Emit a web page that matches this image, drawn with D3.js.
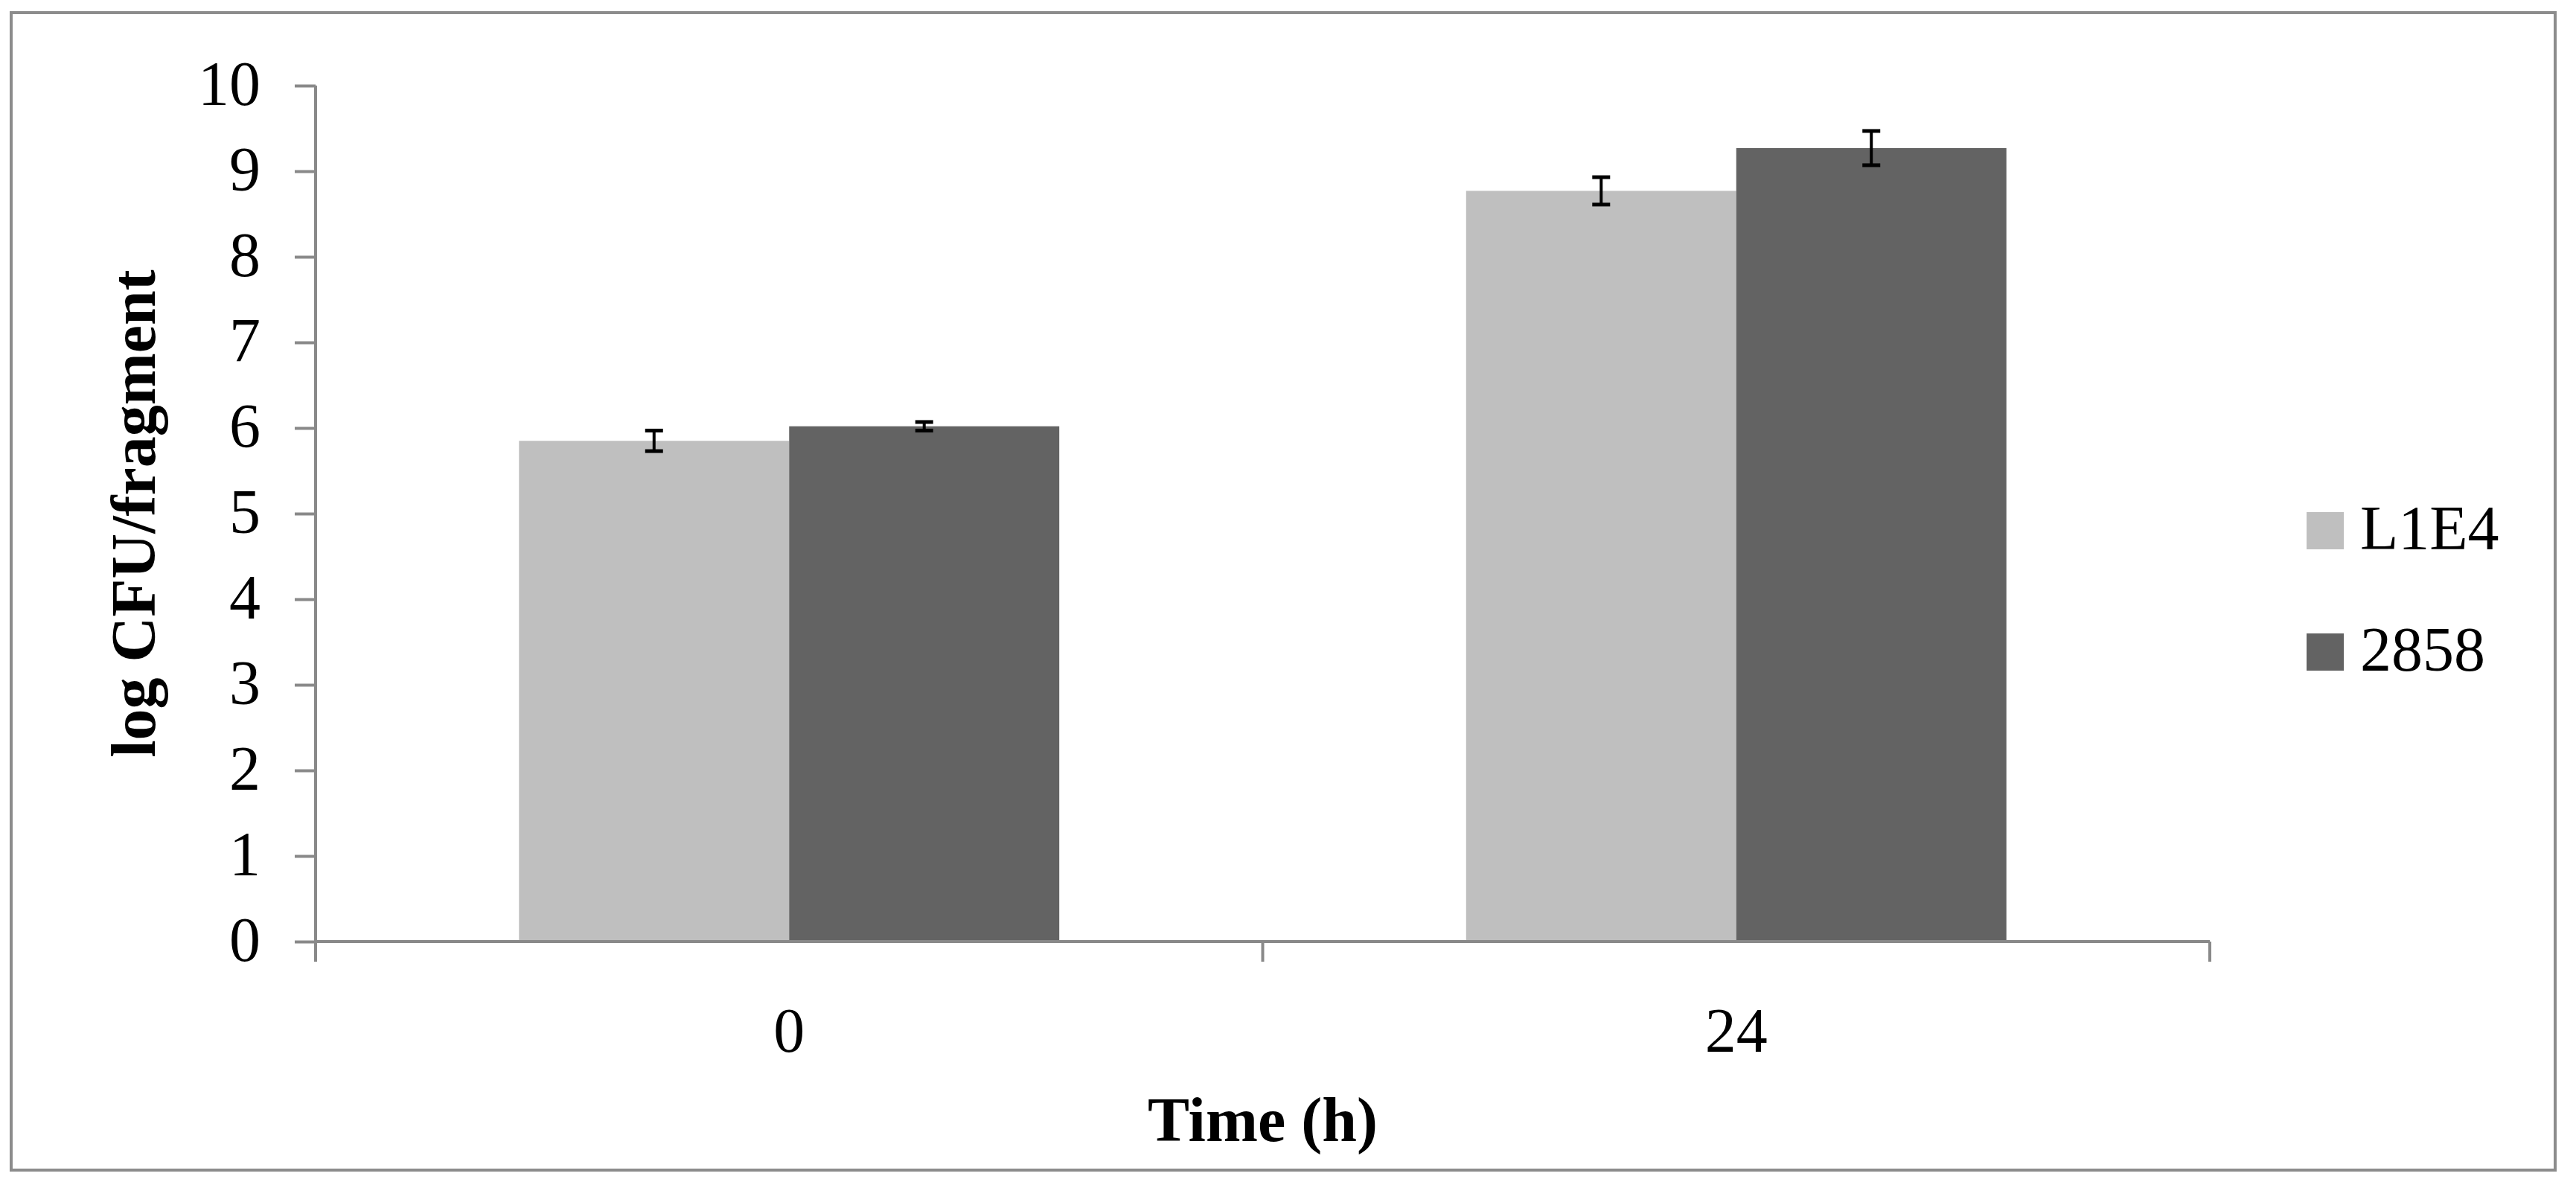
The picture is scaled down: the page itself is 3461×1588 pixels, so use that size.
<!DOCTYPE html>
<meta charset="utf-8">
<style>
  body { margin: 0; background: #fff; }
  text { font-family: "Liberation Serif", "Times New Roman", serif; fill: #000; }
</style>

<!-- Load d3.js -->
<script src="https://d3js.org/d3.v7.min.js"></script>

<div id="my_dataviz"></div>
<script>

// data
var times = ["0", "24"]
var seriesNames = ["L1E4", "2858"]
var L1E4 = [5.85, 8.77]
var L1E4err = [0.12, 0.16]
var s2858 = [6.02, 9.27]
var s2858err = [0.05, 0.2]
var yTicks = [0, 1, 2, 3, 4, 5, 6, 7, 8, 9, 10]
var colors = ["#bfbfbf", "#636363"]

var W = 3461, H = 1588
// plot area edges (note: "top" is taken by window.top)
var pLeft = 424, pRight = 2969, pTop = 115, pBottom = 1265

var svg = d3.select("#my_dataviz")
  .append("svg")
    .attr("width", W)
    .attr("height", H)

// outer frame
svg.append("rect")
  .attr("x", 15).attr("y", 17)
  .attr("width", 3418).attr("height", 1555)
  .attr("fill", "#fff")
  .attr("stroke", "#8c8c8c")
  .attr("stroke-width", 4)

// build rows for the bars
var rows = times.map(function(t, i) {
  return {
    time: t,
    vals: [
      {name: seriesNames[0], v: L1E4[i], e: L1E4err[i]},
      {name: seriesNames[1], v: s2858[i], e: s2858err[i]}
    ]
  }
})

var x0 = d3.scaleBand().domain(times).range([pLeft, pRight]).padding(0)
var x1 = d3.scaleBand().domain(seriesNames).range([0, x0.bandwidth()])
  .paddingInner(0).paddingOuter(0.753)
var y = d3.scaleLinear().domain([0, 10]).range([pBottom, pTop])
var color = d3.scaleOrdinal().domain(seriesNames).range(colors)

// bars
var groups = svg.append("g")
  .selectAll("g")
  .data(rows)
  .enter()
  .append("g")
    .attr("transform", function(d) { return "translate(" + x0(d.time) + ",0)" })

groups.selectAll("rect")
  .data(function(d) { return d.vals })
  .enter()
  .append("rect")
    .attr("x", function(d) { return x1(d.name) })
    .attr("y", function(d) { return y(d.v) })
    .attr("width", x1.bandwidth())
    .attr("height", function(d) { return y(0) - y(d.v) })
    .attr("fill", function(d) { return color(d.name) })

// error bars
var err = groups.selectAll(".err")
  .data(function(d) { return d.vals })
  .enter()
  .append("g")
    .attr("class", "err")
    .attr("transform", function(d) { return "translate(" + (x1(d.name) + x1.bandwidth() / 2) + ",0)" })
err.append("line")
  .attr("y1", function(d) { return y(d.v + d.e) })
  .attr("y2", function(d) { return y(d.v - d.e) })
  .attr("stroke", "#000").attr("stroke-width", 4)
err.selectAll(".cap")
  .data(function(d) { return [d.v + d.e, d.v - d.e] })
  .enter()
  .append("line")
    .attr("x1", -12).attr("x2", 12)
    .attr("y1", function(d) { return y(d) })
    .attr("y2", function(d) { return y(d) })
    .attr("stroke", "#000").attr("stroke-width", 5)

// y axis
var yAxis = svg.append("g")
  .attr("transform", "translate(" + pLeft + ",0)")
  .call(d3.axisLeft(y).tickValues(yTicks).tickSize(28).tickPadding(46).tickFormat(d3.format("d")))
yAxis.select(".domain").remove()
yAxis.selectAll("line").attr("stroke", "#898989").attr("stroke-width", 4)
yAxis.selectAll("text")
  .attr("font-size", 84)
  .attr("dy", "0.3em")
  .style("font-family", "Liberation Serif")
yAxis.append("line")
  .attr("x1", 0).attr("x2", 0)
  .attr("y1", pTop).attr("y2", pBottom + 27)
  .attr("stroke", "#898989").attr("stroke-width", 4)

// x axis with ticks between the categories
var xAxis = svg.append("g")
  .attr("transform", "translate(0," + pBottom + ")")
xAxis.append("line")
  .attr("x1", pLeft).attr("x2", pRight)
  .attr("stroke", "#898989").attr("stroke-width", 4)
xAxis.selectAll(".sep")
  .data(times.concat(["end"]))
  .enter()
  .append("line")
    .attr("x1", function(d) { return d === "end" ? pRight : x0(d) })
    .attr("x2", function(d) { return d === "end" ? pRight : x0(d) })
    .attr("y1", 0).attr("y2", 27)
    .attr("stroke", "#898989").attr("stroke-width", 4)
xAxis.selectAll(".cat")
  .data(times)
  .enter()
  .append("text")
    .attr("x", function(d) { return x0(d) + x0.bandwidth() / 2 })
    .attr("y", 148)
    .attr("text-anchor", "middle")
    .attr("font-size", 84)
    .text(function(d) { return d })

// axis titles
svg.append("text")
  .attr("x", (pLeft + pRight) / 2)
  .attr("y", 1533)
  .attr("text-anchor", "middle")
  .attr("font-size", 84)
  .attr("font-weight", "bold")
  .text("Time (h)")

svg.append("text")
  .attr("transform", "translate(208," + ((pTop + pBottom) / 2) + ") rotate(-90)")
  .attr("text-anchor", "middle")
  .attr("font-size", 84)
  .attr("font-weight", "bold")
  .text("log CFU/fragment")

// legend
var legend = svg.append("g")
  .selectAll("g")
  .data(seriesNames)
  .enter()
  .append("g")
    .attr("transform", function(d, i) { return "translate(3099," + (738 + i * 163) + ")" })
legend.append("rect")
  .attr("x", 0).attr("y", -50)
  .attr("width", 50).attr("height", 50)
  .attr("fill", function(d) { return color(d) })
legend.append("text")
  .attr("x", 72).attr("y", 0)
  .attr("font-size", 84)
  .text(function(d) { return d })

</script>
